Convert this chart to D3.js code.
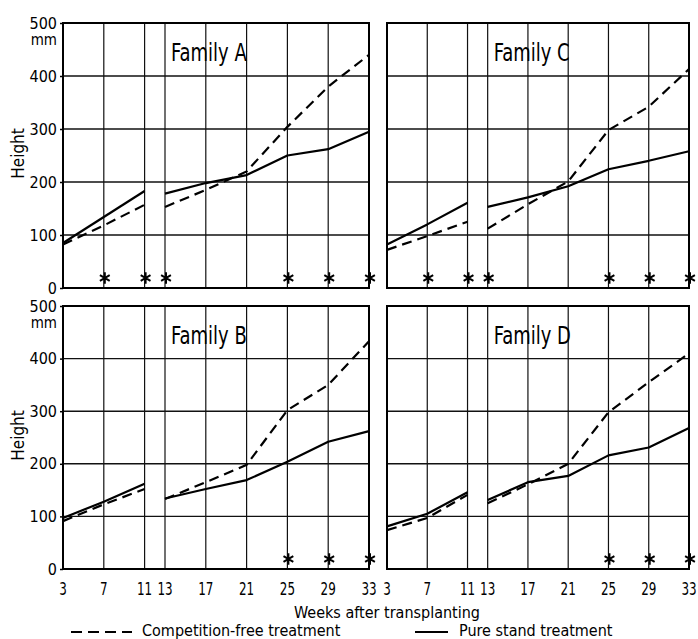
<!DOCTYPE html>
<html>
<head>
<meta charset="utf-8">
<script src="https://cdn.jsdelivr.net/npm/d3@7/dist/d3.min.js"></script>
<style>
  html, body { margin: 0; padding: 0; background: #fff; }
  svg { display: block; }
</style>
</head>
<body>
<script>
// ---------------- data ----------------
const weeks = [3, 7, 11, 13, 17, 21, 25, 29, 33];
const yTicks = [0, 100, 200, 300, 400, 500];
const gridY = [100, 200, 300, 400];
const familyNames = ["Family A", "Family C", "Family B", "Family D"];

// Competition-free treatment (dashed)
const famA_free = [82, 118, 157, 153, 185, 220, 304, 380, 440];
const famC_free = [72, 98, 125, 112, 158, 201, 298, 342, 413];
const famB_free = [91, 123, 152, 133, 165, 198, 302, 350, 433];
const famD_free = [74, 97, 141, 125, 161, 200, 298, 355, 410];

// Pure stand treatment (solid)
const famA_pure = [85, 134, 183, 178, 198, 213, 250, 262, 295];
const famC_pure = [82, 120, 161, 153, 171, 192, 224, 240, 258];
const famB_pure = [97, 128, 162, 134, 152, 169, 204, 242, 262];
const famD_pure = [81, 105, 146, 131, 165, 177, 216, 231, 268];

// Weeks with significant difference (*)
const starsA = [7, 11, 13, 25, 29, 33];
const starsC = [7, 11, 13, 25, 29, 33];
const starsB = [25, 29, 33];
const starsD = [25, 29, 33];

const legendLabels = ["Competition-free treatment", "Pure stand treatment"];
const xTitle = "Weeks after transplanting";
const yTitle = "Height";
const yUnit = "mm";

// ---------------- layout ----------------
const W = 698, H = 639;
const cols = [[63, 369], [387, 689]];
const rows = [[23, 288], [306, 569]];
const FONT = "'DejaVu Sans Condensed', 'DejaVu Sans', sans-serif";

const panels = [
  { name: familyNames[0], free: famA_free, pure: famA_pure, stars: starsA, c: 0, r: 0 },
  { name: familyNames[1], free: famC_free, pure: famC_pure, stars: starsC, c: 1, r: 0 },
  { name: familyNames[2], free: famB_free, pure: famB_pure, stars: starsB, c: 0, r: 1 },
  { name: familyNames[3], free: famD_free, pure: famD_pure, stars: starsD, c: 1, r: 1 }
];

const svg = d3.select("body").append("svg")
  .attr("width", W).attr("height", H)
  .attr("viewBox", `0 0 ${W} ${H}`);

svg.append("rect").attr("width", W).attr("height", H).attr("fill", "#fff");

const starPath = d3.symbol(d3.symbolAsterisk, 90)();

panels.forEach(p => {
  const x = d3.scaleLinear().domain([3, 33]).range(cols[p.c]);
  const y = d3.scaleLinear().domain([0, 500]).range([rows[p.r][1], rows[p.r][0]]);
  const g = svg.append("g");

  // grid
  g.selectAll(".vg").data(weeks).join("line")
    .attr("x1", d => x(d)).attr("x2", d => x(d))
    .attr("y1", y(0)).attr("y2", y(500))
    .attr("stroke", "#111").attr("stroke-width", 1.2);
  g.selectAll(".hg").data(gridY).join("line")
    .attr("x1", x(3)).attr("x2", x(33))
    .attr("y1", d => y(d)).attr("y2", d => y(d))
    .attr("stroke", "#111").attr("stroke-width", 1.4);

  // frame
  g.append("rect")
    .attr("x", x(3)).attr("y", y(500))
    .attr("width", x(33) - x(3)).attr("height", y(0) - y(500))
    .attr("fill", "none").attr("stroke", "#000").attr("stroke-width", 2);

  // y axis (left column only)
  if (p.c === 0) {
    const ax = g.append("g").attr("transform", `translate(${x(3)},0)`)
      .call(d3.axisLeft(y).tickValues(yTicks).tickSize(3).tickPadding(3).tickFormat(d3.format("d")));
    ax.select(".domain").remove();
    ax.selectAll(".tick line").attr("stroke", "#000").attr("stroke-width", 1.5);
    ax.selectAll(".tick text").attr("font-family", FONT).attr("font-size", 16).attr("fill", "#000");
    g.append("text").text(yUnit)
      .attr("x", x(3) - 6).attr("y", y(500) + 22)
      .attr("text-anchor", "end").attr("font-family", FONT).attr("font-size", 15).attr("fill", "#000");
    g.append("text").text(yTitle)
      .attr("transform", `translate(24,${(y(0) + y(500)) / 2 - 2}) rotate(-90)`)
      .attr("text-anchor", "middle").attr("font-family", FONT).attr("font-size", 17).attr("fill", "#000");
  }

  // x axis labels (bottom row only) - narrow glyphs
  if (p.r === 1) {
    g.selectAll(".xt").data(weeks).join("text")
      .text(d => d3.format("d")(d))
      .attr("transform", d => `translate(${x(d)},${y(0) + 26}) scale(0.78,1.07)`)
      .attr("text-anchor", "middle").attr("font-family", FONT).attr("font-size", 17).attr("fill", "#000");
  }

  // title
  g.append("text").text(p.name)
    .attr("transform", `translate(${x(13) + 6},${y(500) + 38}) scale(1,1.2)`)
    .attr("font-family", FONT).attr("font-size", 20).attr("fill", "#000");

  // data lines, broken between week 11 and 13
  const line = d3.line().x(d => x(d.w)).y(d => y(d.v));
  const mk = arr => {
    const pts = weeks.map((w, i) => ({ w, v: arr[i] }));
    return [pts.filter(d => d.w <= 11), pts.filter(d => d.w >= 13)];
  };
  mk(p.pure).forEach(seg => {
    g.append("path").attr("d", line(seg)).attr("fill", "none")
      .attr("stroke", "#000").attr("stroke-width", 2.2).attr("stroke-linejoin", "round");
  });
  mk(p.free).forEach(seg => {
    g.append("path").attr("d", line(seg)).attr("fill", "none")
      .attr("stroke", "#000").attr("stroke-width", 2.2).attr("stroke-dasharray", "10,6");
  });

  // asterisks
  g.selectAll(".star").data(p.stars).join("path")
    .attr("d", starPath)
    .attr("transform", d => `translate(${x(d) + 1},${y(0) - 10})`)
    .attr("fill", "none").attr("stroke", "#000").attr("stroke-width", 2);
});

// x title
svg.append("text").text(xTitle)
  .attr("x", 387).attr("y", 618)
  .attr("text-anchor", "middle").attr("font-family", FONT).attr("font-size", 16).attr("fill", "#000");

// legend
const lg = svg.append("g");
lg.append("line").attr("x1", 71).attr("x2", 132).attr("y1", 632).attr("y2", 632)
  .attr("stroke", "#000").attr("stroke-width", 2.2).attr("stroke-dasharray", "11,6");
lg.append("text").text(legendLabels[0]).attr("x", 142).attr("y", 636)
  .attr("font-family", FONT).attr("font-size", 16).attr("fill", "#000");
lg.append("line").attr("x1", 415).attr("x2", 448).attr("y1", 632).attr("y2", 632)
  .attr("stroke", "#000").attr("stroke-width", 2.2);
lg.append("text").text(legendLabels[1]).attr("x", 459).attr("y", 636)
  .attr("font-family", FONT).attr("font-size", 16).attr("fill", "#000");
</script>
</body>
</html>
